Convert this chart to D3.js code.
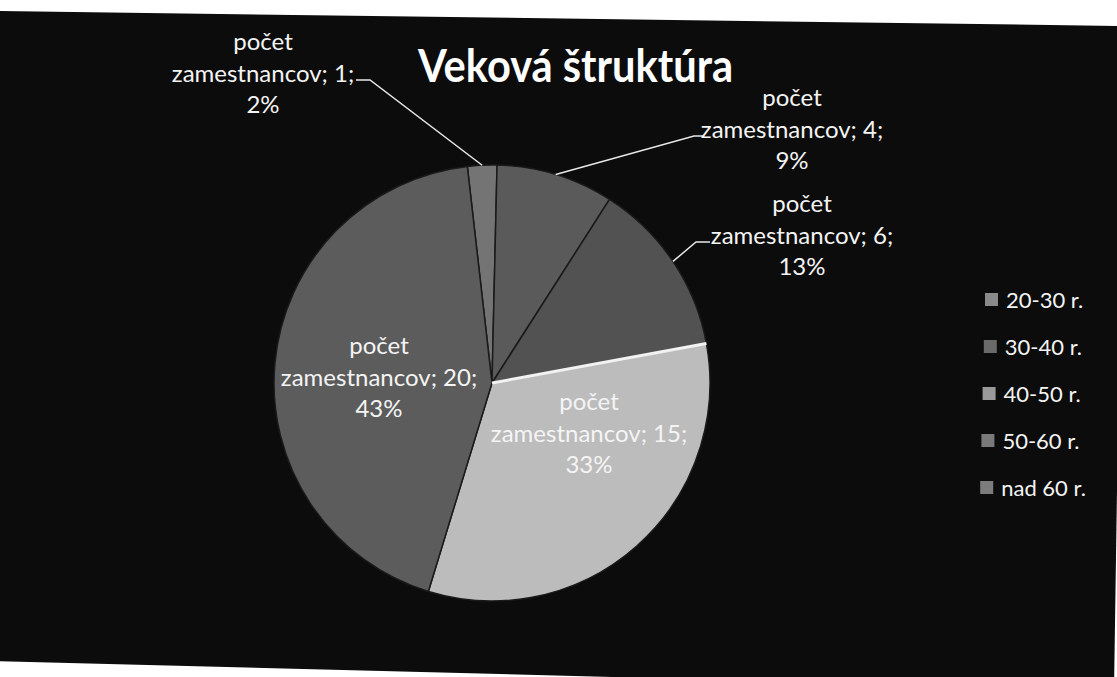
<!DOCTYPE html>
<html>
<head>
<meta charset="utf-8">
<script src="https://cdn.jsdelivr.net/npm/d3@7"></script>
<style>
  html, body { margin: 0; padding: 0; background: #ffffff; }
  svg { display: block; }
</style>
</head>
<body>
<svg id="chart" width="1117" height="677"></svg>
<script>
// ---- data ----
const chartTitle = "Veková štruktúra";
const seriesName = ["počet", "zamestnancov"];
const categories = ["20-30 r.", "30-40 r.", "40-50 r.", "50-60 r.", "nad 60 r."];
const values = [1, 4, 6, 15, 20];

// ---- styling / layout (not data) ----
const sliceColors = ["#747474", "#5a5a5a", "#525252", "#bcbcbc", "#5c5c5c"];
const swatchColors = ["#8a8a8a", "#6a6a6a", "#9a9a9a", "#7a7a7a", "#7c7c7c"];
const labelAnchors = [
  { x: 263, y: 50 }, { x: 792, y: 106 }, { x: 802, y: 212 },
  { x: 589, y: 410 }, { x: 379, y: 354 }
];
const leaderElbows = [
  { ex: 370, ey: 80, tx: 356 },
  { ex: 694, ey: 136, tx: 703 },
  { ex: 696, ey: 242, tx: 710 },
  null, null
];

const svg = d3.select("#chart");
const W = 1117, H = 677;

// scanned page background
svg.append("rect").attr("width", W).attr("height", H).attr("fill", "#ffffff");
svg.append("polygon")
  .attr("points", "-5,11 1124,26 1114,690 -5,661")
  .attr("fill", "#0c0c0c");

const cx = 492, cy = 383, R = 218;
const offset = -6.5 * Math.PI / 180;
const total = d3.sum(values);

const pie = d3.pie().sort(null).value(d => d)
  .startAngle(offset).endAngle(offset + 2 * Math.PI);
const arcs = pie(values);
const arc = d3.arc().innerRadius(0).outerRadius(R);

const color = d3.scaleOrdinal().domain(categories).range(sliceColors);

const g = svg.append("g").attr("transform", `translate(${cx},${cy})`);
g.selectAll("path.slice").data(arcs).enter().append("path")
  .attr("class", "slice")
  .attr("d", arc)
  .attr("fill", (d, i) => color(categories[i]))
  .attr("stroke", "#1a1a1a")
  .attr("stroke-width", 1.5);

// light highlight on the edge of the light slice
const hl = arcs[3];
g.append("line")
  .attr("x1", 0).attr("y1", 0)
  .attr("x2", R * Math.sin(hl.startAngle)).attr("y2", -R * Math.cos(hl.startAngle))
  .attr("stroke", "#f2f2f2").attr("stroke-width", 3);

// title
svg.append("text")
  .attr("x", 418).attr("y", 82)
  .attr("textLength", 315).attr("lengthAdjust", "spacingAndGlyphs")
  .attr("font-family", "Lato, 'Open Sans', sans-serif")
  .attr("font-weight", 700).attr("font-size", 46)
  .attr("fill", "#ffffff")
  .text(chartTitle);

// leader lines
arcs.forEach((d, i) => {
  const e = leaderElbows[i];
  if (!e) return;
  const mid = (d.startAngle + d.endAngle) / 2;
  const px = cx + R * Math.sin(mid), py = cy - R * Math.cos(mid);
  svg.append("polyline")
    .attr("points", `${px},${py} ${e.ex},${e.ey} ${e.tx},${e.ey}`)
    .attr("fill", "none").attr("stroke", "#e8e8e8").attr("stroke-width", 1.5);
});

// data labels
const fmtPct = v => Math.round(v / total * 100) + "%";
arcs.forEach((d, i) => {
  const a = labelAnchors[i];
  const lines = [seriesName[0], `${seriesName[1]}; ${values[i]};`, fmtPct(values[i])];
  const t = svg.append("text")
    .attr("font-family", "Lato, 'Open Sans', sans-serif")
    .attr("font-size", 24)
    .attr("fill", "#f4f4f4")
    .attr("text-anchor", "middle");
  lines.forEach((s, k) => {
    t.append("tspan").attr("x", a.x).attr("y", a.y + k * 31.5).text(s);
  });
});

// legend
const legendY = d3.scalePoint().domain(categories).range([300, 488]);
const leg = svg.append("g");
categories.forEach((c, i) => {
  const y = legendY(c);
  const x0 = 985 - i * 1.2;
  leg.append("rect")
    .attr("x", x0).attr("y", y - 7).attr("width", 13).attr("height", 13)
    .attr("fill", swatchColors[i]);
  leg.append("text")
    .attr("x", x0 + 21).attr("y", y + 8)
    .attr("font-family", "Lato, 'Open Sans', sans-serif")
    .attr("font-size", 22)
    .attr("fill", "#f4f4f4")
    .text(c);
});
</script>
</body>
</html>
